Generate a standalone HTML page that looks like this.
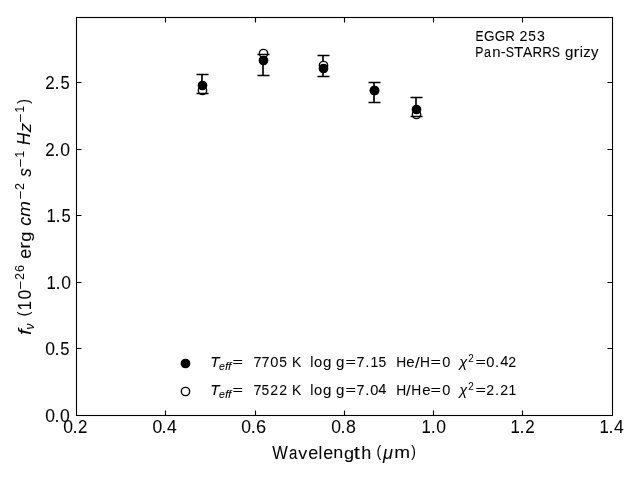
<!DOCTYPE html>
<html><head><meta charset="utf-8"><title>EGGR 253 Pan-STARRS grizy SED</title>
<style>
html,body{margin:0;padding:0;background:#fff;width:640px;height:480px;overflow:hidden}
svg{display:block;font-family:"Liberation Sans",sans-serif}
.t{opacity:0.999}
text{fill:#000;white-space:pre;stroke:#000;stroke-width:0.06px}
.i{font-style:italic}
</style></head><body>
<svg width="640" height="480" viewBox="0 0 640 480">
<rect x="0" y="0" width="640" height="480" fill="#fff"/>
<!-- error bars -->
<path d="M202 74.5V93.5M263 54.5V75.5M323 55.5V76.5M374 82.5V102.5M416 97.5V116.5" stroke="#000" stroke-width="1.667" fill="none"/>
<!-- model (open circles) -->
<g fill="#fff" stroke="#000" stroke-width="1.389">
<circle cx="202.5" cy="90.5" r="4.167"/>
<circle cx="263.5" cy="53.5" r="4.167"/>
<circle cx="323.5" cy="65.5" r="4.167"/>
<circle cx="374.5" cy="90.5" r="4.167"/>
<circle cx="416.5" cy="114.5" r="4.167"/>
</g>
<!-- caps -->
<path d="M196.5 74.5H208.5M196.5 93.5H208.5M257.5 54.5H269.5M257.5 75.5H269.5M317.5 55.5H329.5M317.5 76.5H329.5M368.5 82.5H380.5M368.5 102.5H380.5M410.5 97.5H422.5M410.5 116.5H422.5" stroke="#000" stroke-width="1.389" fill="none"/>
<!-- observed (filled circles) -->
<g fill="#000" stroke="#000" stroke-width="1.389">
<circle cx="202.5" cy="85.5" r="4.167"/>
<circle cx="263.5" cy="60.5" r="4.167"/>
<circle cx="323.5" cy="68.5" r="4.167"/>
<circle cx="374.5" cy="90.5" r="4.167"/>
<circle cx="416.5" cy="109.5" r="4.167"/>
</g>
<!-- axes -->
<path d="M165.5 415.5V410.5M165.5 17.5V22.5M255.5 415.5V410.5M255.5 17.5V22.5M344.5 415.5V410.5M344.5 17.5V22.5M433.5 415.5V410.5M433.5 17.5V22.5M522.5 415.5V410.5M522.5 17.5V22.5M76.5 82.5H81.5M612.5 82.5H607.5M76.5 149.5H81.5M612.5 149.5H607.5M76.5 215.5H81.5M612.5 215.5H607.5M76.5 282.5H81.5M612.5 282.5H607.5M76.5 348.5H81.5M612.5 348.5H607.5" stroke="#000" stroke-width="1.111" fill="none"/>
<rect x="76.5" y="17.5" width="536" height="398" fill="none" stroke="#000" stroke-width="1.111"/>
<!-- legend markers -->
<circle cx="185.5" cy="363.5" r="4.167" fill="#000" stroke="#000" stroke-width="1.389"/>
<circle cx="185.5" cy="391.5" r="4.167" fill="#fff" stroke="#000" stroke-width="1.389"/>
<!-- text -->
<g class="t">
<text transform="translate(62.889,433)"><tspan x="0.41" y="0" font-size="17.80" textLength="9.77" lengthAdjust="spacingAndGlyphs">0</tspan><tspan x="9.74" y="0" font-size="18.33" textLength="5.01" lengthAdjust="spacingAndGlyphs">.</tspan><tspan x="15.21" y="0" font-size="17.72" textLength="9.42" lengthAdjust="spacingAndGlyphs">2</tspan></text>
<text transform="translate(152.209,433)"><tspan x="0.35" y="0" font-size="17.80" textLength="9.77" lengthAdjust="spacingAndGlyphs">0</tspan><tspan x="9.24" y="0" font-size="18.33" textLength="5.01" lengthAdjust="spacingAndGlyphs">.</tspan><tspan x="14.81" y="0" font-size="17.66" textLength="9.77" lengthAdjust="spacingAndGlyphs">4</tspan></text>
<text transform="translate(241.530,433)"><tspan x="-0.34" y="0" font-size="17.80" textLength="9.77" lengthAdjust="spacingAndGlyphs">0</tspan><tspan x="9.18" y="0" font-size="18.33" textLength="5.01" lengthAdjust="spacingAndGlyphs">.</tspan><tspan x="14.52" y="0" font-size="17.80" textLength="10.11" lengthAdjust="spacingAndGlyphs">6</tspan></text>
<text transform="translate(330.850,433)"><tspan x="0.41" y="0" font-size="17.80" textLength="9.77" lengthAdjust="spacingAndGlyphs">0</tspan><tspan x="9.74" y="0" font-size="18.33" textLength="5.01" lengthAdjust="spacingAndGlyphs">.</tspan><tspan x="15.26" y="0" font-size="17.80" textLength="9.88" lengthAdjust="spacingAndGlyphs">8</tspan></text>
<text transform="translate(420.171,433)"><tspan x="1.30" y="0" font-size="17.66" textLength="9.33" lengthAdjust="spacingAndGlyphs">1</tspan><tspan x="10.49" y="0" font-size="18.33" textLength="5.01" lengthAdjust="spacingAndGlyphs">.</tspan><tspan x="16.06" y="0" font-size="17.80" textLength="9.77" lengthAdjust="spacingAndGlyphs">0</tspan></text>
<text transform="translate(509.491,433)"><tspan x="1.05" y="0" font-size="17.66" textLength="9.33" lengthAdjust="spacingAndGlyphs">1</tspan><tspan x="10.05" y="0" font-size="18.33" textLength="5.01" lengthAdjust="spacingAndGlyphs">.</tspan><tspan x="15.83" y="0" font-size="17.72" textLength="9.42" lengthAdjust="spacingAndGlyphs">2</tspan></text>
<text transform="translate(598.812,433)"><tspan x="0.80" y="0" font-size="17.66" textLength="9.33" lengthAdjust="spacingAndGlyphs">1</tspan><tspan x="9.80" y="0" font-size="18.33" textLength="5.01" lengthAdjust="spacingAndGlyphs">.</tspan><tspan x="15.31" y="0" font-size="17.66" textLength="9.77" lengthAdjust="spacingAndGlyphs">4</tspan></text>
<text transform="translate(271.519,459)"><tspan x="0.73" y="0" font-size="17.66" textLength="15.51" lengthAdjust="spacingAndGlyphs">W</tspan><tspan x="17.41" y="0" font-size="17.47" textLength="8.34" lengthAdjust="spacingAndGlyphs">a</tspan><tspan x="26.82" y="0" font-size="17.25" textLength="8.99" lengthAdjust="spacingAndGlyphs">v</tspan><tspan x="36.65" y="0" font-size="17.47" textLength="10.01" lengthAdjust="spacingAndGlyphs">e</tspan><tspan x="46.98" y="0" font-size="17.48" textLength="3.79" lengthAdjust="spacingAndGlyphs">l</tspan><tspan x="51.78" y="0" font-size="17.47" textLength="10.01" lengthAdjust="spacingAndGlyphs">e</tspan><tspan x="61.76" y="-1" font-size="17.35" textLength="9.99" lengthAdjust="spacingAndGlyphs">n</tspan><tspan x="72.48" y="0" font-size="17.20" textLength="10.07" lengthAdjust="spacingAndGlyphs">g</tspan><tspan x="82.13" y="0" font-size="17.89" textLength="6.19" lengthAdjust="spacingAndGlyphs">t</tspan><tspan x="89.63" y="0" font-size="17.48" textLength="10.06" lengthAdjust="spacingAndGlyphs">h</tspan> <tspan x="105.04" y="-2" font-size="15.93" textLength="4.69" lengthAdjust="spacingAndGlyphs">(</tspan><tspan class="i" x="111.59" y="0" font-size="17.47" textLength="9.99" lengthAdjust="spacingAndGlyphs">μ</tspan><tspan x="122.65" y="-1" font-size="17.35" textLength="15.82" lengthAdjust="spacingAndGlyphs">m</tspan><tspan x="139.83" y="-2" font-size="15.93" textLength="4.69" lengthAdjust="spacingAndGlyphs">)</tspan></text>
<text transform="translate(44.775,422)"><tspan x="0.41" y="0" font-size="17.80" textLength="9.77" lengthAdjust="spacingAndGlyphs">0</tspan><tspan x="9.74" y="0" font-size="18.33" textLength="5.01" lengthAdjust="spacingAndGlyphs">.</tspan><tspan x="15.31" y="0" font-size="17.80" textLength="9.77" lengthAdjust="spacingAndGlyphs">0</tspan></text>
<text transform="translate(44.775,355)"><tspan x="0.41" y="0" font-size="17.80" textLength="9.77" lengthAdjust="spacingAndGlyphs">0</tspan><tspan x="9.74" y="0" font-size="18.33" textLength="5.01" lengthAdjust="spacingAndGlyphs">.</tspan><tspan x="15.46" y="0" font-size="17.75" textLength="9.22" lengthAdjust="spacingAndGlyphs">5</tspan></text>
<text transform="translate(44.775,289)"><tspan x="1.80" y="0" font-size="17.66" textLength="9.33" lengthAdjust="spacingAndGlyphs">1</tspan><tspan x="10.80" y="0" font-size="18.33" textLength="5.01" lengthAdjust="spacingAndGlyphs">.</tspan><tspan x="16.56" y="0" font-size="17.80" textLength="9.77" lengthAdjust="spacingAndGlyphs">0</tspan></text>
<text transform="translate(44.775,222)"><tspan x="1.80" y="0" font-size="17.66" textLength="9.33" lengthAdjust="spacingAndGlyphs">1</tspan><tspan x="10.80" y="0" font-size="18.33" textLength="5.01" lengthAdjust="spacingAndGlyphs">.</tspan><tspan x="16.71" y="0" font-size="17.75" textLength="9.22" lengthAdjust="spacingAndGlyphs">5</tspan></text>
<text transform="translate(44.775,156)"><tspan x="0.56" y="0" font-size="17.72" textLength="9.42" lengthAdjust="spacingAndGlyphs">2</tspan><tspan x="9.80" y="0" font-size="18.33" textLength="5.01" lengthAdjust="spacingAndGlyphs">.</tspan><tspan x="15.56" y="0" font-size="17.80" textLength="9.77" lengthAdjust="spacingAndGlyphs">0</tspan></text>
<text transform="translate(44.775,89)"><tspan x="0.56" y="0" font-size="17.72" textLength="9.42" lengthAdjust="spacingAndGlyphs">2</tspan><tspan x="9.80" y="0" font-size="18.33" textLength="5.01" lengthAdjust="spacingAndGlyphs">.</tspan><tspan x="15.71" y="0" font-size="17.75" textLength="9.22" lengthAdjust="spacingAndGlyphs">5</tspan></text>
<text transform="translate(31,335.622) rotate(-90)"><tspan class="i" x="0.68" y="0" font-size="17.48" textLength="5.75" lengthAdjust="spacingAndGlyphs">f</tspan><tspan class="i" x="6.10" y="3" font-size="12.08" textLength="5.82" lengthAdjust="spacingAndGlyphs">ν</tspan> <tspan x="19.38" y="-2" font-size="15.93" textLength="4.69" lengthAdjust="spacingAndGlyphs">(</tspan><tspan x="25.26" y="0" font-size="17.66" textLength="9.33" lengthAdjust="spacingAndGlyphs">1</tspan><tspan x="36.16" y="0" font-size="17.80" textLength="9.77" lengthAdjust="spacingAndGlyphs">0</tspan><tspan x="45.81" y="-6" font-size="12.83" textLength="8.78" lengthAdjust="spacingAndGlyphs">−</tspan><tspan x="55.98" y="-7" font-size="12.40" textLength="6.59" lengthAdjust="spacingAndGlyphs">2</tspan><tspan x="63.69" y="-7" font-size="12.46" textLength="7.08" lengthAdjust="spacingAndGlyphs">6</tspan> <tspan x="76.79" y="0" font-size="17.47" textLength="10.01" lengthAdjust="spacingAndGlyphs">e</tspan><tspan x="86.73" y="-1" font-size="17.35" textLength="7.11" lengthAdjust="spacingAndGlyphs">r</tspan><tspan x="93.83" y="0" font-size="17.20" textLength="10.07" lengthAdjust="spacingAndGlyphs">g</tspan> <tspan class="i" x="109.86" y="0" font-size="17.47" textLength="8.96" lengthAdjust="spacingAndGlyphs">c</tspan><tspan class="i" x="118.86" y="-1" font-size="17.36" textLength="15.70" lengthAdjust="spacingAndGlyphs">m</tspan><tspan x="136.03" y="-6" font-size="12.83" textLength="8.78" lengthAdjust="spacingAndGlyphs">−</tspan><tspan x="145.89" y="-7" font-size="12.40" textLength="6.59" lengthAdjust="spacingAndGlyphs">2</tspan> <tspan class="i" x="158.82" y="0" font-size="17.52" textLength="8.54" lengthAdjust="spacingAndGlyphs">s</tspan><tspan x="168.19" y="-6" font-size="12.83" textLength="8.78" lengthAdjust="spacingAndGlyphs">−</tspan><tspan x="178.05" y="-7" font-size="12.36" textLength="6.53" lengthAdjust="spacingAndGlyphs">1</tspan> <tspan class="i" x="190.64" y="-1" font-size="17.66" textLength="12.14" lengthAdjust="spacingAndGlyphs">H</tspan><tspan class="i" x="203.49" y="0" font-size="17.25" textLength="9.24" lengthAdjust="spacingAndGlyphs">z</tspan><tspan x="213.17" y="-6" font-size="12.83" textLength="8.78" lengthAdjust="spacingAndGlyphs">−</tspan><tspan x="223.03" y="-7" font-size="12.36" textLength="6.53" lengthAdjust="spacingAndGlyphs">1</tspan><tspan x="231.83" y="-2" font-size="15.93" textLength="4.69" lengthAdjust="spacingAndGlyphs">)</tspan></text>
<text transform="translate(474.976,41)"><tspan x="0.44" y="0" font-size="14.72" textLength="8.03" lengthAdjust="spacingAndGlyphs">E</tspan><tspan x="9.12" y="0" font-size="14.84" textLength="10.54" lengthAdjust="spacingAndGlyphs">G</tspan><tspan x="19.89" y="0" font-size="14.84" textLength="10.54" lengthAdjust="spacingAndGlyphs">G</tspan><tspan x="30.39" y="0" font-size="14.72" textLength="9.59" lengthAdjust="spacingAndGlyphs">R</tspan> <tspan x="44.49" y="0" font-size="14.76" textLength="7.85" lengthAdjust="spacingAndGlyphs">2</tspan><tspan x="53.28" y="0" font-size="14.79" textLength="7.68" lengthAdjust="spacingAndGlyphs">5</tspan><tspan x="62.12" y="0" font-size="14.84" textLength="7.82" lengthAdjust="spacingAndGlyphs">3</tspan></text>
<text transform="translate(474.976,57)"><tspan x="0.36" y="0" font-size="14.72" textLength="8.19" lengthAdjust="spacingAndGlyphs">P</tspan><tspan x="9.11" y="0" font-size="14.56" textLength="6.95" lengthAdjust="spacingAndGlyphs">a</tspan><tspan x="17.39" y="0" font-size="14.46" textLength="8.33" lengthAdjust="spacingAndGlyphs">n</tspan><tspan x="25.69" y="0" font-size="14.24" textLength="4.99" lengthAdjust="spacingAndGlyphs">-</tspan><tspan x="30.73" y="0" font-size="14.84" textLength="8.26" lengthAdjust="spacingAndGlyphs">S</tspan><tspan x="39.13" y="0" font-size="14.72" textLength="9.25" lengthAdjust="spacingAndGlyphs">T</tspan><tspan x="48.06" y="0" font-size="14.72" textLength="9.33" lengthAdjust="spacingAndGlyphs">A</tspan><tspan x="57.44" y="0" font-size="14.72" textLength="9.59" lengthAdjust="spacingAndGlyphs">R</tspan><tspan x="67.28" y="0" font-size="14.72" textLength="9.59" lengthAdjust="spacingAndGlyphs">R</tspan><tspan x="76.82" y="0" font-size="14.84" textLength="8.26" lengthAdjust="spacingAndGlyphs">S</tspan> <tspan x="90.08" y="0" font-size="14.34" textLength="8.40" lengthAdjust="spacingAndGlyphs">g</tspan><tspan x="98.41" y="0" font-size="14.46" textLength="5.93" lengthAdjust="spacingAndGlyphs">r</tspan><tspan x="104.90" y="0" font-size="14.56" textLength="3.15" lengthAdjust="spacingAndGlyphs">i</tspan><tspan x="108.39" y="0" font-size="14.38" textLength="7.44" lengthAdjust="spacingAndGlyphs">z</tspan><tspan x="116.06" y="0" font-size="14.25" textLength="7.46" lengthAdjust="spacingAndGlyphs">y</tspan></text>
<text transform="translate(210.372,367)"><tspan class="i" x="-0.01" y="0" font-size="14.72" textLength="9.26" lengthAdjust="spacingAndGlyphs">T</tspan><tspan class="i" x="8.64" y="3" font-size="10.19" textLength="5.85" lengthAdjust="spacingAndGlyphs">e</tspan><tspan class="i" x="14.72" y="3" font-size="10.19" textLength="3.35" lengthAdjust="spacingAndGlyphs">f</tspan><tspan class="i" x="17.64" y="3" font-size="10.19" textLength="3.35" lengthAdjust="spacingAndGlyphs">f</tspan><tspan x="22.04" y="-1" font-size="13.19" textLength="10.45" lengthAdjust="spacingAndGlyphs">=</tspan>  <tspan x="43.06" y="0" font-size="14.72" textLength="7.96" lengthAdjust="spacingAndGlyphs">7</tspan><tspan x="51.15" y="0" font-size="14.72" textLength="7.96" lengthAdjust="spacingAndGlyphs">7</tspan><tspan x="59.92" y="0" font-size="14.84" textLength="8.14" lengthAdjust="spacingAndGlyphs">0</tspan><tspan x="69.00" y="0" font-size="14.79" textLength="7.68" lengthAdjust="spacingAndGlyphs">5</tspan> <tspan x="81.57" y="0" font-size="14.72" textLength="9.34" lengthAdjust="spacingAndGlyphs">K</tspan>  <tspan x="99.96" y="0" font-size="14.56" textLength="3.15" lengthAdjust="spacingAndGlyphs">l</tspan><tspan x="103.61" y="0" font-size="14.56" textLength="8.21" lengthAdjust="spacingAndGlyphs">o</tspan><tspan x="112.59" y="0" font-size="14.34" textLength="8.40" lengthAdjust="spacingAndGlyphs">g</tspan> <tspan x="125.57" y="0" font-size="14.34" textLength="8.40" lengthAdjust="spacingAndGlyphs">g</tspan><tspan x="135.11" y="-1" font-size="13.19" textLength="10.45" lengthAdjust="spacingAndGlyphs">=</tspan><tspan x="146.05" y="0" font-size="14.72" textLength="7.96" lengthAdjust="spacingAndGlyphs">7</tspan><tspan x="154.78" y="0" font-size="15.28" textLength="4.18" lengthAdjust="spacingAndGlyphs">.</tspan><tspan x="160.11" y="0" font-size="14.72" textLength="7.78" lengthAdjust="spacingAndGlyphs">1</tspan><tspan x="168.06" y="0" font-size="14.79" textLength="7.68" lengthAdjust="spacingAndGlyphs">5</tspan>  <tspan x="185.88" y="0" font-size="14.72" textLength="9.98" lengthAdjust="spacingAndGlyphs">H</tspan><tspan x="195.97" y="0" font-size="14.56" textLength="8.34" lengthAdjust="spacingAndGlyphs">e</tspan><tspan x="204.64" y="1" font-size="15.28" textLength="4.68" lengthAdjust="spacingAndGlyphs">/</tspan><tspan x="209.54" y="0" font-size="14.72" textLength="9.98" lengthAdjust="spacingAndGlyphs">H</tspan><tspan x="220.11" y="-1" font-size="13.19" textLength="10.45" lengthAdjust="spacingAndGlyphs">=</tspan><tspan x="231.99" y="0" font-size="14.84" textLength="8.14" lengthAdjust="spacingAndGlyphs">0</tspan>  <tspan class="i" x="248.95" y="0" font-size="14.07" textLength="8.00" lengthAdjust="spacingAndGlyphs">χ</tspan><tspan x="257.87" y="-5" font-size="10.33" textLength="5.49" lengthAdjust="spacingAndGlyphs">2</tspan><tspan x="265.07" y="-1" font-size="13.19" textLength="10.45" lengthAdjust="spacingAndGlyphs">=</tspan><tspan x="275.95" y="0" font-size="14.84" textLength="8.14" lengthAdjust="spacingAndGlyphs">0</tspan><tspan x="284.56" y="0" font-size="15.28" textLength="4.18" lengthAdjust="spacingAndGlyphs">.</tspan><tspan x="289.95" y="-1" font-size="14.72" textLength="8.14" lengthAdjust="spacingAndGlyphs">4</tspan><tspan x="298.00" y="0" font-size="14.76" textLength="7.85" lengthAdjust="spacingAndGlyphs">2</tspan></text>
<text transform="translate(210.372,395)"><tspan class="i" x="-0.01" y="0" font-size="14.72" textLength="9.26" lengthAdjust="spacingAndGlyphs">T</tspan><tspan class="i" x="8.64" y="3" font-size="10.19" textLength="5.85" lengthAdjust="spacingAndGlyphs">e</tspan><tspan class="i" x="14.72" y="3" font-size="10.19" textLength="3.35" lengthAdjust="spacingAndGlyphs">f</tspan><tspan class="i" x="17.64" y="3" font-size="10.19" textLength="3.35" lengthAdjust="spacingAndGlyphs">f</tspan><tspan x="22.04" y="-1" font-size="13.19" textLength="10.45" lengthAdjust="spacingAndGlyphs">=</tspan>  <tspan x="43.06" y="0" font-size="14.72" textLength="7.96" lengthAdjust="spacingAndGlyphs">7</tspan><tspan x="51.07" y="0" font-size="14.79" textLength="7.68" lengthAdjust="spacingAndGlyphs">5</tspan><tspan x="59.89" y="0" font-size="14.76" textLength="7.85" lengthAdjust="spacingAndGlyphs">2</tspan><tspan x="68.97" y="0" font-size="14.76" textLength="7.85" lengthAdjust="spacingAndGlyphs">2</tspan> <tspan x="81.57" y="0" font-size="14.72" textLength="9.34" lengthAdjust="spacingAndGlyphs">K</tspan>  <tspan x="99.96" y="0" font-size="14.56" textLength="3.15" lengthAdjust="spacingAndGlyphs">l</tspan><tspan x="103.61" y="0" font-size="14.56" textLength="8.21" lengthAdjust="spacingAndGlyphs">o</tspan><tspan x="112.59" y="0" font-size="14.34" textLength="8.40" lengthAdjust="spacingAndGlyphs">g</tspan> <tspan x="125.58" y="0" font-size="14.34" textLength="8.40" lengthAdjust="spacingAndGlyphs">g</tspan><tspan x="135.11" y="-1" font-size="13.19" textLength="10.45" lengthAdjust="spacingAndGlyphs">=</tspan><tspan x="146.05" y="0" font-size="14.72" textLength="7.96" lengthAdjust="spacingAndGlyphs">7</tspan><tspan x="154.78" y="0" font-size="15.28" textLength="4.18" lengthAdjust="spacingAndGlyphs">.</tspan><tspan x="159.99" y="0" font-size="14.84" textLength="8.14" lengthAdjust="spacingAndGlyphs">0</tspan><tspan x="167.83" y="-1" font-size="14.72" textLength="8.14" lengthAdjust="spacingAndGlyphs">4</tspan>  <tspan x="185.88" y="0" font-size="14.72" textLength="9.98" lengthAdjust="spacingAndGlyphs">H</tspan><tspan x="195.60" y="1" font-size="15.28" textLength="4.68" lengthAdjust="spacingAndGlyphs">/</tspan><tspan x="201.00" y="0" font-size="14.72" textLength="9.98" lengthAdjust="spacingAndGlyphs">H</tspan><tspan x="211.85" y="0" font-size="14.56" textLength="8.34" lengthAdjust="spacingAndGlyphs">e</tspan><tspan x="220.11" y="-1" font-size="13.19" textLength="10.45" lengthAdjust="spacingAndGlyphs">=</tspan><tspan x="231.99" y="0" font-size="14.84" textLength="8.14" lengthAdjust="spacingAndGlyphs">0</tspan>  <tspan class="i" x="248.95" y="0" font-size="14.07" textLength="8.00" lengthAdjust="spacingAndGlyphs">χ</tspan><tspan x="257.87" y="-5" font-size="10.33" textLength="5.49" lengthAdjust="spacingAndGlyphs">2</tspan><tspan x="265.07" y="-1" font-size="13.19" textLength="10.45" lengthAdjust="spacingAndGlyphs">=</tspan><tspan x="275.92" y="0" font-size="14.76" textLength="7.85" lengthAdjust="spacingAndGlyphs">2</tspan><tspan x="284.56" y="0" font-size="15.28" textLength="4.18" lengthAdjust="spacingAndGlyphs">.</tspan><tspan x="289.91" y="0" font-size="14.76" textLength="7.85" lengthAdjust="spacingAndGlyphs">2</tspan><tspan x="298.15" y="0" font-size="14.72" textLength="7.78" lengthAdjust="spacingAndGlyphs">1</tspan></text>
</g>
</svg>
</body></html>
